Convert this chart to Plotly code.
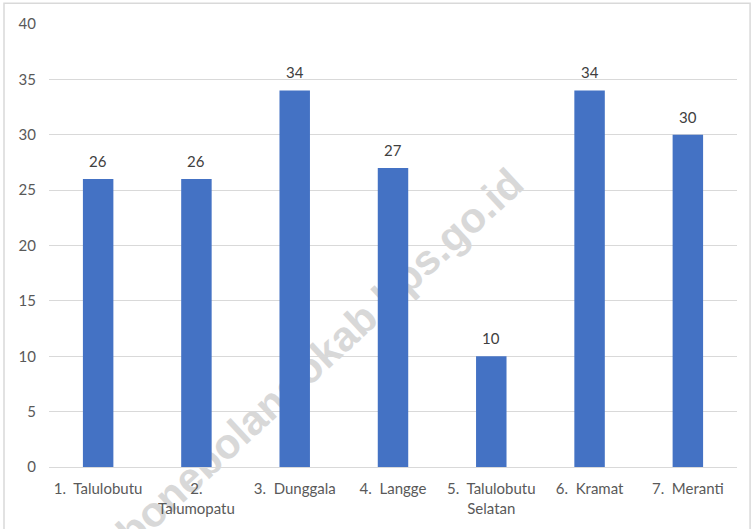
import plotly.graph_objects as go

categories = ["1.  Talulobutu", "2.<br>Talumopatu", "3.  Dunggala", "4.  Langge",
              "5.  Talulobutu<br>Selatan", "6.  Kramat", "7.  Meranti"]
values = [26, 26, 34, 27, 10, 34, 30]
y_ticks = [0, 5, 10, 15, 20, 25, 30, 35, 40]

FONT = "Lato, 'Open Sans', sans-serif"
xs = list(range(len(categories)))

fig = go.Figure()
fig.add_trace(go.Bar(
    x=xs, y=values,
    marker=dict(color="#4472C4", line=dict(width=0)),
    width=0.31, hoverinfo="y",
))

annotations = [dict(x=x, y=v, text=str(v), showarrow=False, yanchor="bottom",
                    yshift=7, font=dict(size=15, color="#404040", family=FONT))
               for x, v in zip(xs, values)]

fig.update_layout(
    width=752, height=529,
    margin=dict(l=49, r=15, t=24, b=62),
    paper_bgcolor="white", plot_bgcolor="white",
    showlegend=False,
    font=dict(family=FONT, size=15, color="#595959"),
    xaxis=dict(
        tickmode="array", tickvals=xs, ticktext=categories,
        range=[-0.5, len(categories) - 0.5], showgrid=False, zeroline=False,
        showline=False, ticks="", tickfont=dict(size=15, color="#595959"),
        tickangle=0, ticklabelstandoff=11,
    ),
    yaxis=dict(
        range=[0, 40], tickvals=y_ticks, showgrid=True, gridcolor="#d9d9d9",
        gridwidth=1, zeroline=True, zerolinecolor="#d9d9d9", zerolinewidth=1,
        ticks="", tickfont=dict(size=15, color="#595959"), ticklabelstandoff=12,
    ),
    shapes=[
        dict(type="rect", xref="paper", yref="paper",
             x0=-0.0654, x1=1.019, y0=-0.3, y1=1.047,
             line=dict(color="#d9d9d9", width=1.5), layer="below"),
        dict(type="line", xref="paper", yref="paper",
             x0=0.2706, y0=0.0023, x1=0.561, y1=0.4176,
             line=dict(width=0, color="rgba(0,0,0,0)"), layer="below",
             label=dict(text="bonebolangokab.bps.go.id", textposition="middle",
                        font=dict(size=42, color="#d8d8d8",
                                  family="'Liberation Sans', Arial, sans-serif",
                                  weight="bold"))),
    ],
    annotations=annotations,
)

fig.write_html("out.html")
